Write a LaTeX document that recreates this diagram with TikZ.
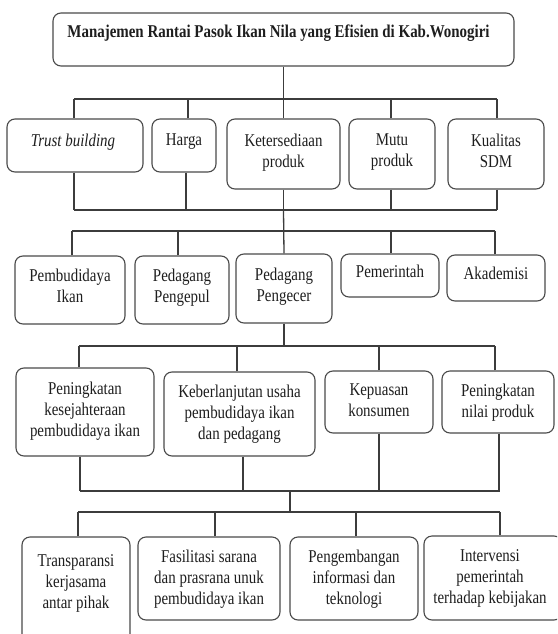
\documentclass[tikz,border=0pt]{standalone}
\usepackage{fontspec}
\setmainfont{Liberation Serif}[FakeStretch=0.83]
\usetikzlibrary{fit}
\definecolor{linec}{HTML}{3C3C3C}
\definecolor{boxc}{HTML}{4A4A4A}
\definecolor{txt}{HTML}{1E1E1E}
\tikzset{
  box/.style={draw=boxc, line width=1.1pt, rounded corners=8pt, inner sep=0pt},
  lbl/.style={align=center, inner sep=0pt, anchor=north, text=txt,
              font=\fontsize{18}{21}\selectfont},
  conn/.style={draw=linec, line width=1.3pt},
}
\begin{document}
\begin{tikzpicture}[x=1pt,y=-1pt]
\useasboundingbox (0,0) rectangle (557,634);
\clip (0,0) rectangle (557,634);
\fill[white] (0,0) rectangle (557,634);

% ---------- boxes ----------
\node[box, fit={(53,13) (514,66)}] (top) {};
% row 1
\node[box, fit={(7,119) (143,172)}] (trust) {};
\node[box, fit={(152,119) (216,172)}] (harga) {};
\node[box, fit={(227,119) (340,189)}] (ket) {};
\node[box, fit={(349,119) (435,189)}] (mutu) {};
\node[box, fit={(448,119) (544,189)}] (kual) {};
% row 2
\node[box, fit={(15,256) (125,324)}] (pembud) {};
\node[box, fit={(135,256) (229,324)}] (pengepul) {};
\node[box, fit={(236,254) (332,323)}] (pengecer) {};
\node[box, fit={(341,254) (439,297)}] (pemerintah) {};
\node[box, fit={(447,255) (545,301)}] (akad) {};
% row 3
\node[box, fit={(16,368) (154,456)}] (kesej) {};
\node[box, fit={(164,372) (315,456)}] (keberl) {};
\node[box, fit={(325,371) (433,433)}] (kepuasan) {};
\node[box, fit={(442,371) (554,433)}] (nilai) {};
% row 4
\node[box, fit={(22,537) (130,642)}] (transp) {};
\node[box, fit={(138,537) (280,620)}] (fasil) {};
\node[box, fit={(290,537) (418,620)}] (pengemb) {};
\node[box, fit={(424,536) (562,620)}] (interv) {};

% ---------- labels ----------
\node[lbl, font=\fontsize{18}{21}\selectfont\bfseries] (ttop) at ([xshift=-5pt,yshift=-12pt]top.north) {Manajemen Rantai Pasok Ikan Nila yang Efisien di Kab.Wonogiri};

\node[lbl] (ttrust) at ([xshift=-2pt,yshift=-15.5pt]trust.north) {\textit{Trust building}};
\node[lbl] (tharga) at ([yshift=-15.5pt]harga.north) {Harga};
\node[lbl] (tket) at ([yshift=-15.5pt]ket.north) {Ketersediaan\\produk};
\node[lbl] (tmutu) at ([yshift=-15.5pt]mutu.north) {Mutu\\produk};
\node[lbl] (tkual) at ([yshift=-15.5pt]kual.north) {Kualitas\\SDM};

\node[lbl] (tpembud) at ([yshift=-13.5pt]pembud.north) {Pembudidaya\\Ikan};
\node[lbl] (tpengepul) at ([yshift=-13.5pt]pengepul.north) {Pedagang\\Pengepul};
\node[lbl] (tpengecer) at ([yshift=-14.5pt]pengecer.north) {Pedagang\\Pengecer};
\node[lbl] (tpemerintah) at ([yshift=-11pt]pemerintah.north) {Pemerintah};
\node[lbl] (takad) at ([yshift=-12pt]akad.north) {Akademisi};

\node[lbl] (tkesej) at ([yshift=-14.5pt]kesej.north) {Peningkatan\\kesejahteraan\\pembudidaya ikan};
\node[lbl] (tkeberl) at ([yshift=-13.5pt]keberl.north) {Keberlanjutan usaha\\pembudidaya ikan\\dan pedagang};
\node[lbl] (tkepuasan) at ([yshift=-13.5pt]kepuasan.north) {Kepuasan\\konsumen};
\node[lbl] (tnilai) at ([yshift=-13.5pt]nilai.north) {Peningkatan\\nilai produk};

\node[lbl] (ttransp) at ([yshift=-17.5pt]transp.north) {Transparansi\\kerjasama\\antar pihak};
\node[lbl] (tfasil) at ([yshift=-13.5pt]fasil.north) {Fasilitasi sarana\\dan prasrana unuk\\pembudidaya ikan};
\node[lbl] (tpengemb) at ([yshift=-13.5pt]pengemb.north) {Pengembangan\\informasi dan\\teknologi};
\node[lbl] (tinterv) at ([xshift=-3pt,yshift=-13.5pt]interv.north) {Intervensi\\pemerintah\\terhadap kebijakan};

% ---------- bar levels ----------
\coordinate (y1) at (0,99);
\coordinate (y2) at (0,210);
\coordinate (y3) at (0,231);
\coordinate (y4) at (0,346);
\coordinate (y5) at (0,491);
\coordinate (y6) at (0,512);
\coordinate (mid5) at (290,491);

% ---------- connectors: top -> row 1 ----------
\draw[conn] (top.south) -- (top.south |- y1);
\draw[conn] ([xshift=-1pt]trust.north |- y1) -- ([xshift=1pt]kual.north |- y1);
\draw[conn] ([xshift=-1pt]trust.north) -- ([xshift=-1pt]trust.north |- y1);
\draw[conn] ([xshift=4pt]harga.north) -- ([xshift=4pt]harga.north |- y1);
\draw[conn] (ket.north) -- (ket.north |- y1);
\draw[conn] ([xshift=-1pt]mutu.north) -- ([xshift=-1pt]mutu.north |- y1);
\draw[conn] ([xshift=1pt]kual.north) -- ([xshift=1pt]kual.north |- y1);

% row 1 -> bar
\draw[conn] ([xshift=-1pt]trust.south |- y2) -- ([xshift=1pt]kual.south |- y2);
\draw[conn] ([xshift=-1pt]trust.south) -- ([xshift=-1pt]trust.south |- y2);
\draw[conn] ([xshift=2pt]harga.south) -- ([xshift=2pt]harga.south |- y2);
\draw[conn] ([xshift=-1pt]mutu.south) -- ([xshift=-1pt]mutu.south |- y2);
\draw[conn] ([xshift=1pt]kual.south) -- ([xshift=1pt]kual.south |- y2);
\draw[conn] (ket.south) -- (ket.south |- y2);
\draw[conn] (ket.south |- y2) -- (pengecer.north);

% ---------- row 2 ----------
\draw[conn] ([xshift=2pt]pembud.north |- y3) -- ([xshift=-1pt]akad.north |- y3);
\draw[conn] ([xshift=2pt]pembud.north) -- ([xshift=2pt]pembud.north |- y3);
\draw[conn] ([xshift=-4pt]pengepul.north) -- ([xshift=-4pt]pengepul.north |- y3);
\draw[conn] ([xshift=1pt]pemerintah.north) -- ([xshift=1pt]pemerintah.north |- y3);
\draw[conn] ([xshift=-1pt]akad.north) -- ([xshift=-1pt]akad.north |- y3);

% row 2 -> row 3
\draw[conn] (pengecer.south) -- (pengecer.south |- y4);
\draw[conn] ([xshift=-6pt]kesej.north |- y4) -- ([xshift=-3pt]nilai.north |- y4);
\draw[conn] ([xshift=-6pt]kesej.north) -- ([xshift=-6pt]kesej.north |- y4);
\draw[conn] ([xshift=-2.5pt]keberl.north) -- ([xshift=-2.5pt]keberl.north |- y4);
\draw[conn] (kepuasan.north) -- (kepuasan.north |- y4);
\draw[conn] ([xshift=-3pt]nilai.north) -- ([xshift=-3pt]nilai.north |- y4);

% row 3 -> bar
\draw[conn] ([xshift=-5pt]kesej.south |- y5) -- ([xshift=2pt]nilai.south |- y5);
\draw[conn] ([xshift=-5pt]kesej.south) -- ([xshift=-5pt]kesej.south |- y5);
\draw[conn] ([xshift=3.5pt]keberl.south) -- ([xshift=3.5pt]keberl.south |- y5);
\draw[conn] (kepuasan.south) -- (kepuasan.south |- y5);
\draw[conn] ([xshift=1pt]nilai.south) -- ([xshift=1pt]nilai.south |- y5);
\draw[conn] (mid5) -- (mid5 |- y6);

% ---------- row 4 ----------
\draw[conn] ([xshift=2pt]transp.north |- y6) -- ([xshift=7pt]interv.north |- y6);
\draw[conn] ([xshift=2pt]transp.north) -- ([xshift=2pt]transp.north |- y6);
\draw[conn] ([xshift=6pt]fasil.north) -- ([xshift=6pt]fasil.north |- y6);
\draw[conn] ([xshift=2pt]pengemb.north) -- ([xshift=2pt]pengemb.north |- y6);
\draw[conn] ([xshift=7pt]interv.north) -- ([xshift=7pt]interv.north |- y6);
\end{tikzpicture}
\end{document}
